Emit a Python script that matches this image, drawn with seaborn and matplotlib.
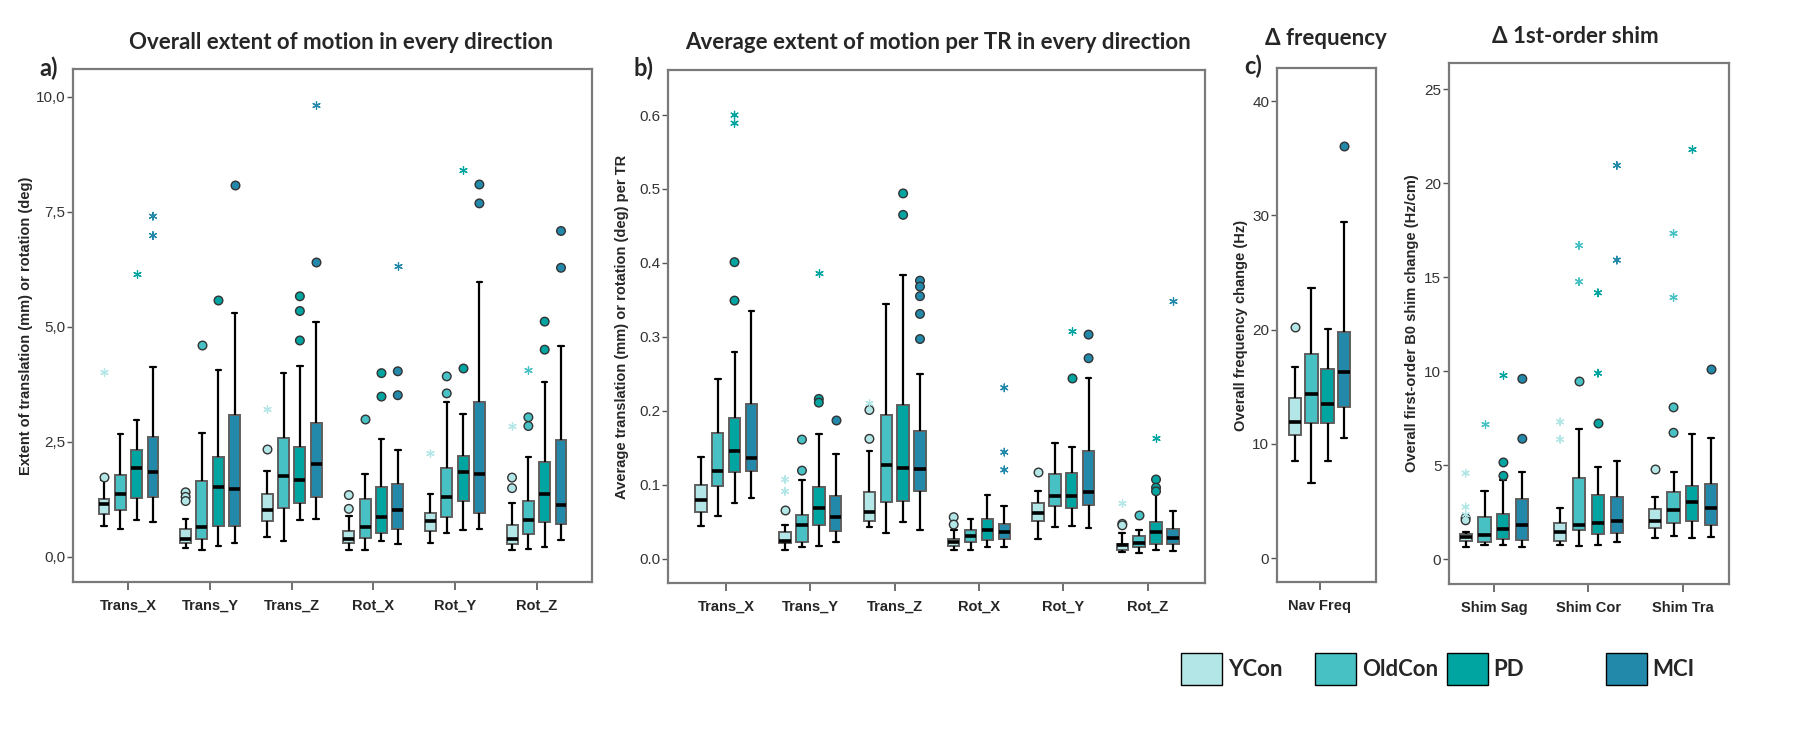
"""Motion and shim change box plots per group (YCon, OldCon, PD, MCI)."""

import numpy as np
import pandas as pd
import matplotlib.pyplot as plt
import seaborn as sns
from matplotlib.patches import Patch
from matplotlib.ticker import FuncFormatter

sns.set_theme(style='ticks')
plt.rcParams['font.family'] = ['Liberation Sans', 'DejaVu Sans']

groups = ['YCon', 'OldCon', 'PD', 'MCI']
colors = ['#b3e6e6', '#48c1c4', '#00a4a0', '#2389ab']

# every box is [low whisker, q1, median, q3, high whisker]
a_measures = ['Trans_X', 'Trans_Y', 'Trans_Z', 'Rot_X', 'Rot_Y', 'Rot_Z']
a_ycon = [[0.67, 0.92, 1.14, 1.25, 1.66], [0.18, 0.29, 0.39, 0.61, 0.83], [0.43, 0.77, 1.01, 1.37, 1.86],
          [0.14, 0.29, 0.38, 0.56, 0.88], [0.29, 0.56, 0.77, 0.95, 1.37], [0.14, 0.27, 0.38, 0.69, 1.16]]
a_oldcon = [[0.60, 1.02, 1.37, 1.78, 2.66], [0.14, 0.39, 0.65, 1.64, 2.69], [0.35, 1.06, 1.76, 2.58, 3.99],
            [0.14, 0.40, 0.65, 1.26, 1.79], [0.52, 0.87, 1.30, 1.92, 3.37], [0.17, 0.50, 0.79, 1.20, 2.17]]
a_pd = [[0.79, 1.28, 1.92, 2.33, 2.97], [0.23, 0.67, 1.52, 2.16, 4.05], [0.79, 1.17, 1.66, 2.39, 4.15],
        [0.34, 0.52, 0.86, 1.51, 2.55], [0.58, 1.20, 1.84, 2.18, 3.11], [0.22, 0.75, 1.37, 2.06, 3.79]]
a_mci = [[0.76, 1.30, 1.85, 2.60, 4.12], [0.30, 0.66, 1.48, 3.08, 5.29], [0.81, 1.30, 2.01, 2.91, 5.11],
         [0.27, 0.60, 1.02, 1.59, 2.33], [0.61, 0.96, 1.79, 3.37, 5.97], [0.36, 0.71, 1.13, 2.53, 4.58]]
a_circles = [('Trans_X', 'YCon', 1.73), ('Trans_Y', 'YCon', 1.40), ('Trans_Y', 'YCon', 1.30),
             ('Trans_Y', 'YCon', 1.21), ('Trans_Y', 'OldCon', 4.60), ('Trans_Y', 'PD', 5.59),
             ('Trans_Y', 'MCI', 8.07), ('Trans_Z', 'YCon', 2.34), ('Trans_Z', 'PD', 5.66),
             ('Trans_Z', 'PD', 5.34), ('Trans_Z', 'PD', 4.70), ('Trans_Z', 'MCI', 6.41),
             ('Rot_X', 'YCon', 1.34), ('Rot_X', 'YCon', 1.04), ('Rot_X', 'OldCon', 3.00),
             ('Rot_X', 'PD', 3.99), ('Rot_X', 'PD', 3.48), ('Rot_X', 'MCI', 4.03), ('Rot_X', 'MCI', 3.51),
             ('Rot_Y', 'OldCon', 3.92), ('Rot_Y', 'OldCon', 3.55), ('Rot_Y', 'PD', 4.10),
             ('Rot_Y', 'MCI', 8.09), ('Rot_Y', 'MCI', 7.68), ('Rot_Z', 'YCon', 1.72), ('Rot_Z', 'YCon', 1.49),
             ('Rot_Z', 'OldCon', 3.03), ('Rot_Z', 'OldCon', 2.84), ('Rot_Z', 'PD', 5.11),
             ('Rot_Z', 'PD', 4.50), ('Rot_Z', 'MCI', 7.08), ('Rot_Z', 'MCI', 6.28)]
a_stars = [('Trans_X', 'YCon', 4.01), ('Trans_X', 'PD', 6.14), ('Trans_X', 'MCI', 7.40),
           ('Trans_X', 'MCI', 6.98), ('Trans_Z', 'YCon', 3.20), ('Trans_Z', 'MCI', 9.82),
           ('Rot_X', 'MCI', 6.32), ('Rot_Y', 'YCon', 2.25), ('Rot_Y', 'PD', 8.41),
           ('Rot_Z', 'YCon', 2.84), ('Rot_Z', 'OldCon', 4.06)]

b_measures = a_measures
b_ycon = [[0.044, 0.063, 0.079, 0.100, 0.138], [0.011, 0.021, 0.024, 0.036, 0.046], [0.043, 0.051, 0.063, 0.090, 0.145],
          [0.011, 0.017, 0.022, 0.027, 0.039], [0.027, 0.051, 0.061, 0.075, 0.091], [0.009, 0.012, 0.018, 0.020, 0.034]]
b_oldcon = [[0.058, 0.098, 0.118, 0.170, 0.243], [0.016, 0.023, 0.045, 0.059, 0.106], [0.035, 0.076, 0.127, 0.194, 0.344],
            [0.011, 0.023, 0.031, 0.038, 0.053], [0.043, 0.071, 0.085, 0.114, 0.156], [0.008, 0.015, 0.021, 0.031, 0.039]]
b_pd = [[0.075, 0.117, 0.145, 0.190, 0.280], [0.017, 0.045, 0.068, 0.097, 0.169], [0.049, 0.078, 0.123, 0.208, 0.383],
        [0.016, 0.025, 0.038, 0.053, 0.086], [0.044, 0.069, 0.084, 0.116, 0.151], [0.011, 0.020, 0.036, 0.049, 0.090]]
b_mci = [[0.082, 0.119, 0.136, 0.209, 0.335], [0.022, 0.037, 0.056, 0.085, 0.142], [0.038, 0.092, 0.121, 0.172, 0.250],
         [0.016, 0.027, 0.036, 0.047, 0.071], [0.041, 0.073, 0.090, 0.146, 0.244], [0.010, 0.020, 0.028, 0.040, 0.065]]
b_circles = [('Trans_X', 'PD', 0.401), ('Trans_X', 'PD', 0.349), ('Trans_Y', 'YCon', 0.066),
             ('Trans_Y', 'OldCon', 0.161), ('Trans_Y', 'OldCon', 0.119), ('Trans_Y', 'PD', 0.216),
             ('Trans_Y', 'PD', 0.211), ('Trans_Y', 'MCI', 0.187), ('Trans_Z', 'YCon', 0.201),
             ('Trans_Z', 'YCon', 0.162), ('Trans_Z', 'PD', 0.494), ('Trans_Z', 'PD', 0.465),
             ('Trans_Z', 'MCI', 0.376), ('Trans_Z', 'MCI', 0.368), ('Trans_Z', 'MCI', 0.355),
             ('Trans_Z', 'MCI', 0.331), ('Trans_Z', 'MCI', 0.297), ('Rot_X', 'YCon', 0.056),
             ('Rot_X', 'YCon', 0.046), ('Rot_Y', 'YCon', 0.117), ('Rot_Y', 'PD', 0.244),
             ('Rot_Y', 'MCI', 0.303), ('Rot_Y', 'MCI', 0.271), ('Rot_Z', 'YCon', 0.047),
             ('Rot_Z', 'YCon', 0.045), ('Rot_Z', 'OldCon', 0.059), ('Rot_Z', 'PD', 0.107),
             ('Rot_Z', 'PD', 0.096), ('Rot_Z', 'PD', 0.091)]
b_stars = [('Trans_X', 'PD', 0.600), ('Trans_X', 'PD', 0.589), ('Trans_Y', 'YCon', 0.107),
           ('Trans_Y', 'YCon', 0.091), ('Trans_Y', 'PD', 0.386), ('Trans_Z', 'YCon', 0.211),
           ('Rot_X', 'MCI', 0.231), ('Rot_X', 'MCI', 0.144), ('Rot_X', 'MCI', 0.120),
           ('Rot_Y', 'PD', 0.308), ('Rot_Z', 'YCon', 0.075), ('Rot_Z', 'PD', 0.163), ('Rot_Z', 'MCI', 0.349)]

c_measures = ['Nav Freq']
c_ycon = [[8.49, 10.80, 11.87, 13.97, 16.75]]
c_oldcon = [[6.60, 11.84, 14.33, 17.85, 23.68]]
c_pd = [[8.46, 11.84, 13.50, 16.55, 20.07]]
c_mci = [[10.54, 13.23, 16.25, 19.75, 29.40]]
c_circles = [('Nav Freq', 'YCon', 20.19), ('Nav Freq', 'MCI', 36.03)]
c_stars = []

d_measures = ['Shim Sag', 'Shim Cor', 'Shim Tra']
d_ycon = [[0.64, 0.98, 1.17, 1.33, 1.44], [0.74, 0.98, 1.42, 1.91, 2.71], [1.12, 1.67, 2.04, 2.68, 3.32]]
d_oldcon = [[0.74, 0.92, 1.28, 2.22, 3.62], [0.69, 1.52, 1.81, 4.33, 6.91], [1.24, 1.93, 2.61, 3.58, 4.65]]
d_pd = [[0.74, 1.06, 1.61, 2.41, 4.18], [0.74, 1.31, 1.91, 3.39, 4.89], [1.12, 2.00, 3.05, 3.90, 6.67]]
d_mci = [[0.62, 1.03, 1.83, 3.19, 4.63], [0.90, 1.40, 2.02, 3.32, 5.23], [1.17, 1.83, 2.71, 3.99, 6.44]]
d_circles = [('Shim Sag', 'YCon', 2.18), ('Shim Sag', 'YCon', 2.06), ('Shim Sag', 'PD', 5.14),
             ('Shim Sag', 'PD', 4.43), ('Shim Sag', 'MCI', 6.40), ('Shim Sag', 'MCI', 9.59),
             ('Shim Cor', 'OldCon', 9.47), ('Shim Cor', 'PD', 7.25), ('Shim Tra', 'YCon', 4.79),
             ('Shim Tra', 'OldCon', 8.07), ('Shim Tra', 'OldCon', 6.72), ('Shim Tra', 'MCI', 10.12)]
d_stars = [('Shim Sag', 'YCon', 4.57), ('Shim Sag', 'YCon', 2.77), ('Shim Sag', 'YCon', 2.36),
           ('Shim Sag', 'OldCon', 7.18), ('Shim Sag', 'PD', 9.82), ('Shim Cor', 'YCon', 7.30),
           ('Shim Cor', 'YCon', 6.37), ('Shim Cor', 'OldCon', 16.69), ('Shim Cor', 'OldCon', 14.76),
           ('Shim Cor', 'PD', 14.17), ('Shim Cor', 'PD', 9.89), ('Shim Cor', 'MCI', 20.95),
           ('Shim Cor', 'MCI', 15.91), ('Shim Tra', 'OldCon', 17.33), ('Shim Tra', 'OldCon', 13.92),
           ('Shim Tra', 'PD', 21.80)]

cols = ['measure', 'group', 'value']


def box_frame(measures, stats):
    rows = []
    for g, per_measure in zip(groups, stats):
        for m, five in zip(measures, per_measure):
            rows += [(m, g, v) for v in five]
    return pd.DataFrame(rows, columns=cols)


def panel(ax, measures, stats, circles, stars, gap):
    """Boxes from the five-number summaries, then circles and stars on top."""
    sns.boxplot(data=box_frame(measures, stats), x='measure', y='value', hue='group',
                order=measures, hue_order=groups, palette=colors, saturation=1, width=0.8, gap=gap,
                whis=(0, 100), showfliers=False, legend=False, ax=ax,
                linewidth=1.6, linecolor='black',
                boxprops={'edgecolor': '#5f5f5f', 'linewidth': 1.4},
                medianprops={'linewidth': 2.6, 'color': 'black'})
    if circles:
        sns.stripplot(data=pd.DataFrame(circles, columns=cols), x='measure', y='value', hue='group',
                      order=measures, hue_order=groups, palette=colors, dodge=True, jitter=False,
                      size=6.2, linewidth=1.0, edgecolor='#333333', legend=False, ax=ax)
    if stars:
        n = len(ax.collections)
        sns.stripplot(data=pd.DataFrame(stars, columns=cols), x='measure', y='value', hue='group',
                      order=measures, hue_order=groups, palette=colors, dodge=True, jitter=False,
                      marker=(6, 2, 0), size=5.5, linewidth=0.9, legend=False, ax=ax)
        for coll in ax.collections[n:]:
            coll.set_edgecolors(coll.get_facecolors())
    ax.set_xlabel('')
    for s in ax.spines.values():
        s.set_visible(True)
        s.set_color('#7a7a7a')
        s.set_linewidth(1.6)
    ax.tick_params(axis='x', direction='out', length=6, width=1.2, color='#555555', pad=6)
    ax.tick_params(axis='y', direction='out', length=4.5, width=1.0, color='#555555', pad=1,
                   labelsize=11, labelcolor='#333333')
    for lab in ax.get_xticklabels():
        lab.set_fontweight('bold')
        lab.set_fontsize(10.5)


fig = plt.figure(figsize=(18.16, 7.32), dpi=100)
ax_a = fig.add_axes([0.0402, 0.2049, 0.2858, 0.7008])
ax_b = fig.add_axes([0.3678, 0.2036, 0.2957, 0.7008])
ax_c = fig.add_axes([0.7032, 0.2049, 0.0545, 0.7022])
ax_d = fig.add_axes([0.7979, 0.2022, 0.1542, 0.7117])

panel(ax_a, a_measures, [a_ycon, a_oldcon, a_pd, a_mci], a_circles, a_stars, 0.33)
panel(ax_b, b_measures, [b_ycon, b_oldcon, b_pd, b_mci], b_circles, b_stars, 0.32)
panel(ax_c, c_measures, [c_ycon, c_oldcon, c_pd, c_mci], c_circles, c_stars, 0.22)
panel(ax_d, d_measures, [d_ycon, d_oldcon, d_pd, d_mci], d_circles, d_stars, 0.36)

ax_a.set_xlim(-0.68, 5.68)
ax_a.set_ylim(-0.55, 10.6)
ax_a.set_yticks([0, 2.5, 5, 7.5, 10])
ax_a.yaxis.set_major_formatter(FuncFormatter(lambda v, p: f'{v:.1f}'.replace('.', ',')))
ax_b.set_xlim(-0.69, 5.68)
ax_b.set_ylim(-0.033, 0.661)
ax_b.set_yticks(np.arange(0, 0.61, 0.1))
ax_b.yaxis.set_major_formatter(FuncFormatter(lambda v, p: f'{v:.1f}'))
ax_c.set_xlim(-0.52, 0.69)
ax_c.set_ylim(-2.1, 42.9)
ax_c.set_yticks([0, 10, 20, 30, 40])
ax_d.set_xlim(-0.476, 2.487)
ax_d.set_ylim(-1.33, 26.4)
ax_d.set_yticks([0, 5, 10, 15, 20, 25])

ylabels = [(ax_a, 'Extent of translation (mm) or rotation (deg)', -0.077),
           (ax_b, 'Average translation (mm) or rotation (deg) per TR', -0.073),
           (ax_c, 'Overall frequency change (Hz)', -0.29),
           (ax_d, 'Overall first-order B0 shim change (Hz/cm)', -0.106)]
for ax, text, xpos in ylabels:
    ax.set_ylabel(text, fontweight='bold', fontsize=10.5)
    ax.yaxis.set_label_coords(xpos, 0.5)

title_font = dict(family=['Lato', 'DejaVu Sans'], fontweight='bold', ha='center', va='center')
fig.text(0.1878, 0.9413, 'Overall extent of motion in every direction', fontsize=16, **title_font)
fig.text(0.5165, 0.9413, 'Average extent of motion per TR in every direction', fontsize=16, **title_font)
fig.text(0.7302, 0.948, 'Δ frequency', fontsize=16, **title_font)
fig.text(0.8673, 0.9495, 'Δ 1st-order shim', fontsize=16, **title_font)
fig.text(0.027, 0.907, 'a)', fontsize=17, **title_font)
fig.text(0.3546, 0.907, 'b)', fontsize=17, **title_font)
fig.text(0.69, 0.91, 'c)', fontsize=17, **title_font)

# legend entries are spaced unevenly in the original, so one legend per group
legend_x = [1181, 1315, 1447, 1606]
for g, c, x in zip(groups, colors, legend_x):
    fig.legend(handles=[Patch(facecolor=c, edgecolor='black', linewidth=1.0, label=g)],
               loc='center left', bbox_to_anchor=(x / 1816, 0.086), frameon=False,
               handlelength=1.85, handleheight=1.85, handletextpad=0.25, borderpad=0,
               borderaxespad=0, prop={'family': ['Lato', 'DejaVu Sans'], 'weight': 'bold', 'size': 16})

plt.savefig('out.png', dpi=100)
